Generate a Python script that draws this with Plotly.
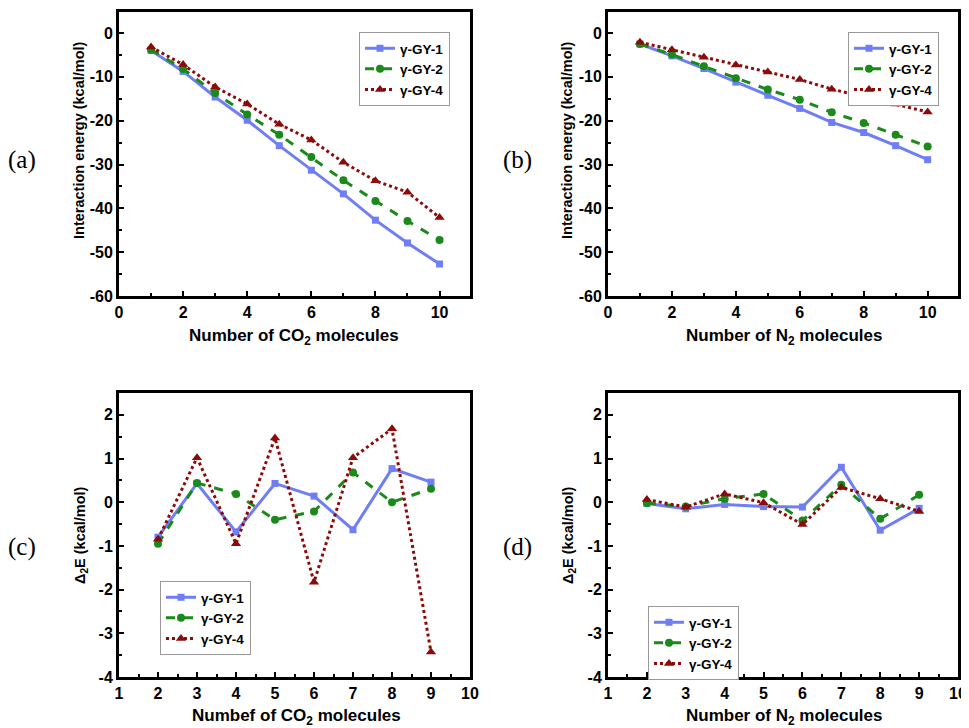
import plotly.graph_objects as go

# ---- data ----
n_ie = [1, 2, 3, 4, 5, 6, 7, 8, 9, 10]
co2_gy1 = [-4.0, -8.75, -14.6, -19.9, -25.7, -31.3, -36.7, -42.7, -47.9, -52.7]
co2_gy2 = [-3.8, -8.2, -13.7, -18.6, -23.2, -28.3, -33.6, -38.3, -42.9, -47.2]
co2_gy4 = [-3.2, -7.2, -12.3, -16.2, -20.8, -24.4, -29.5, -33.7, -36.3, -42.1]

n2_gy1 = [-2.5, -5.2, -8.1, -11.2, -14.2, -17.2, -20.4, -22.7, -25.7, -28.9]
n2_gy2 = [-2.5, -4.9, -7.6, -10.3, -12.9, -15.2, -18.1, -20.5, -23.2, -25.9]
n2_gy4 = [-2.1, -3.8, -5.5, -7.3, -8.9, -10.6, -12.8, -14.5, -16.2, -18.0]

n_d2 = [2, 3, 4, 5, 6, 7, 8, 9]
d2co2_gy1 = [-0.80, 0.43, -0.68, 0.43, 0.14, -0.63, 0.77, 0.46]
d2co2_gy2 = [-0.95, 0.44, 0.19, -0.40, -0.21, 0.68, 0.0, 0.31]
d2co2_gy4 = [-0.85, 1.02, -0.95, 1.47, -1.83, 1.02, 1.68, -3.43]

d2n2_gy1 = [-0.03, -0.15, -0.05, -0.10, -0.11, 0.80, -0.64, -0.14]
d2n2_gy2 = [-0.02, -0.10, 0.08, 0.19, -0.42, 0.40, -0.38, 0.17]
d2n2_gy4 = [0.06, -0.11, 0.19, -0.01, -0.51, 0.34, 0.08, -0.21]

series_names = ["γ-GY-1", "γ-GY-2", "γ-GY-4"]

# tick labels (hyphen minus, as in the original)
ie_yticks = [0, -10, -20, -30, -40, -50, -60]
ie_yticklabels = ["0", "-10", "-20", "-30", "-40", "-50", "-60"]
d2_yticks = [2, 1, 0, -1, -2, -3, -4]
d2_yticklabels = ["2", "1", "0", "-1", "-2", "-3", "-4"]
ie_xticks = [0, 2, 4, 6, 8, 10]
d2_xticks = [1, 2, 3, 4, 5, 6, 7, 8, 9, 10]

# ---- style ----
OFF = 8  # default page body margin
W, H = 969 - OFF, 728 - OFF
BLUE = "#6F7EF5"
GREEN = "#1A8A1A"
RED = "#8B0A0A"
styles = [
    dict(color=BLUE, dash="solid", symbol="square", msize=7),
    dict(color=GREEN, dash="dash", symbol="circle", msize=8),
    dict(color=RED, dash="dot", symbol="triangle-up", msize=9),
]

def px_x(p):
    return (p - OFF) / W

def px_y(p):
    return 1 - (p - OFF) / H

fig = go.Figure()

panels = [
    dict(xs=n_ie, ys=[co2_gy1, co2_gy2, co2_gy4], xa="x", ya="y", leg="legend"),
    dict(xs=n_ie, ys=[n2_gy1, n2_gy2, n2_gy4], xa="x2", ya="y2", leg="legend2"),
    dict(xs=n_d2, ys=[d2co2_gy1, d2co2_gy2, d2co2_gy4], xa="x3", ya="y3", leg="legend3"),
    dict(xs=n_d2, ys=[d2n2_gy1, d2n2_gy2, d2n2_gy4], xa="x4", ya="y4", leg="legend4"),
]

for p in panels:
    for name, ys, st in zip(series_names, p["ys"], styles):
        fig.add_trace(go.Scatter(
            x=p["xs"], y=ys, name=name, mode="lines+markers",
            xaxis=p["xa"], yaxis=p["ya"], legend=p["leg"],
            line=dict(color=st["color"], width=3, dash=st["dash"]),
            marker=dict(color=st["color"], symbol=st["symbol"], size=st["msize"]),
        ))

tickfont = dict(family="Liberation Sans", size=16, color="black", weight="bold")

def axis(domain, rng, tickvals, ticktext, minor_dtick, anchor):
    return dict(
        domain=domain, range=rng, anchor=anchor, automargin=False,
        showline=True, linecolor="black", linewidth=3, mirror=True,
        ticks="inside", ticklen=5, tickwidth=2, tickcolor="black",
        tickmode="array", tickvals=tickvals, ticktext=ticktext,
        minor=dict(ticks="inside", ticklen=3, tickwidth=1.5, tickcolor="black",
                   tickmode="linear", tick0=0, dtick=minor_dtick),
        showgrid=False, zeroline=False,
        tickfont=tickfont,
    )

xd_left = [px_x(119), px_x(470)]
xd_right = [px_x(608), px_x(958)]
yd_top = [px_y(296), px_y(12)]
yd_bot = [px_y(677), px_y(393)]

ie_xt = [str(v) for v in ie_xticks]
d2_xt = [str(v) for v in d2_xticks]

layout = dict(
    width=W, height=H,
    margin=dict(l=0, r=0, t=0, b=0),
    paper_bgcolor="white", plot_bgcolor="white",
    xaxis=axis(xd_left, [0, 10.95], ie_xticks, ie_xt, 1, "y"),
    yaxis=axis(yd_top, [-60, 4.8], ie_yticks, ie_yticklabels, 5, "x"),
    xaxis2=axis(xd_right, [0, 10.95], ie_xticks, ie_xt, 1, "y2"),
    yaxis2=axis(yd_top, [-60, 4.8], ie_yticks, ie_yticklabels, 5, "x2"),
    xaxis3=axis(xd_left, [1, 10], d2_xticks, d2_xt, 0.5, "y3"),
    yaxis3=axis(yd_bot, [-4, 2.5], d2_yticks, d2_yticklabels, 0.5, "x3"),
    xaxis4=axis(xd_right, [1, 10], d2_xticks, d2_xt, 0.5, "y4"),
    yaxis4=axis(yd_bot, [-4, 2.5], d2_yticks, d2_yticklabels, 0.5, "x4"),
)

legfont = dict(family="Liberation Sans", size=13.5, color="black", weight="bold")
def leg(x, y):
    return dict(x=px_x(x), y=px_y(y), xanchor="left", yanchor="top",
                bgcolor="white", bordercolor="#999999", borderwidth=1,
                font=legfont, tracegroupgap=0, itemwidth=30)

layout["legend"] = leg(359, 32)
layout["legend2"] = leg(848, 32)
layout["legend3"] = leg(160, 581)
layout["legend4"] = leg(648, 606)
layout["showlegend"] = True

fig.update_layout(**layout)

# axis titles
xtitle_font = dict(family="Liberation Sans", size=17, color="black", weight="bold")
ytitle_font = dict(family="Liberation Sans", size=14.5, color="black", weight="bold")
xtitles = [("Number of CO<sub>2</sub> molecules", 294, 337),
           ("Number of N<sub>2</sub> molecules", 784, 337),
           ("Numbef of CO<sub>2</sub> molecules", 296, 717),
           ("Number of N<sub>2</sub> molecules", 784, 717)]
for txt, x, y in xtitles:
    fig.add_annotation(text=txt, x=px_x(x), y=px_y(y), xref="paper", yref="paper",
                       showarrow=False, xanchor="center", yanchor="middle", font=xtitle_font)
ytitles = [("Interaction energy (kcal/mol)", 79, 140),
           ("Interaction energy (kcal/mol)", 567, 140),
           ("Δ<sub>2</sub>E (kcal/mol)", 81, 535),
           ("Δ<sub>2</sub>E (kcal/mol)", 569, 535)]
for txt, x, y in ytitles:
    fig.add_annotation(text=txt, x=px_x(x), y=px_y(y), xref="paper", yref="paper",
                       showarrow=False, xanchor="center", yanchor="middle",
                       textangle=-90, font=ytitle_font)

labels = [("(a)", 22, 160), ("(b)", 518, 160), ("(c)", 22, 547), ("(d)", 518, 547)]
for txt, x, y in labels:
    fig.add_annotation(text=txt, x=px_x(x), y=px_y(y), xref="paper", yref="paper",
                       showarrow=False, xanchor="center", yanchor="middle",
                       font=dict(family="Liberation Serif", size=25, color="black"))

fig.write_html("out.html")
